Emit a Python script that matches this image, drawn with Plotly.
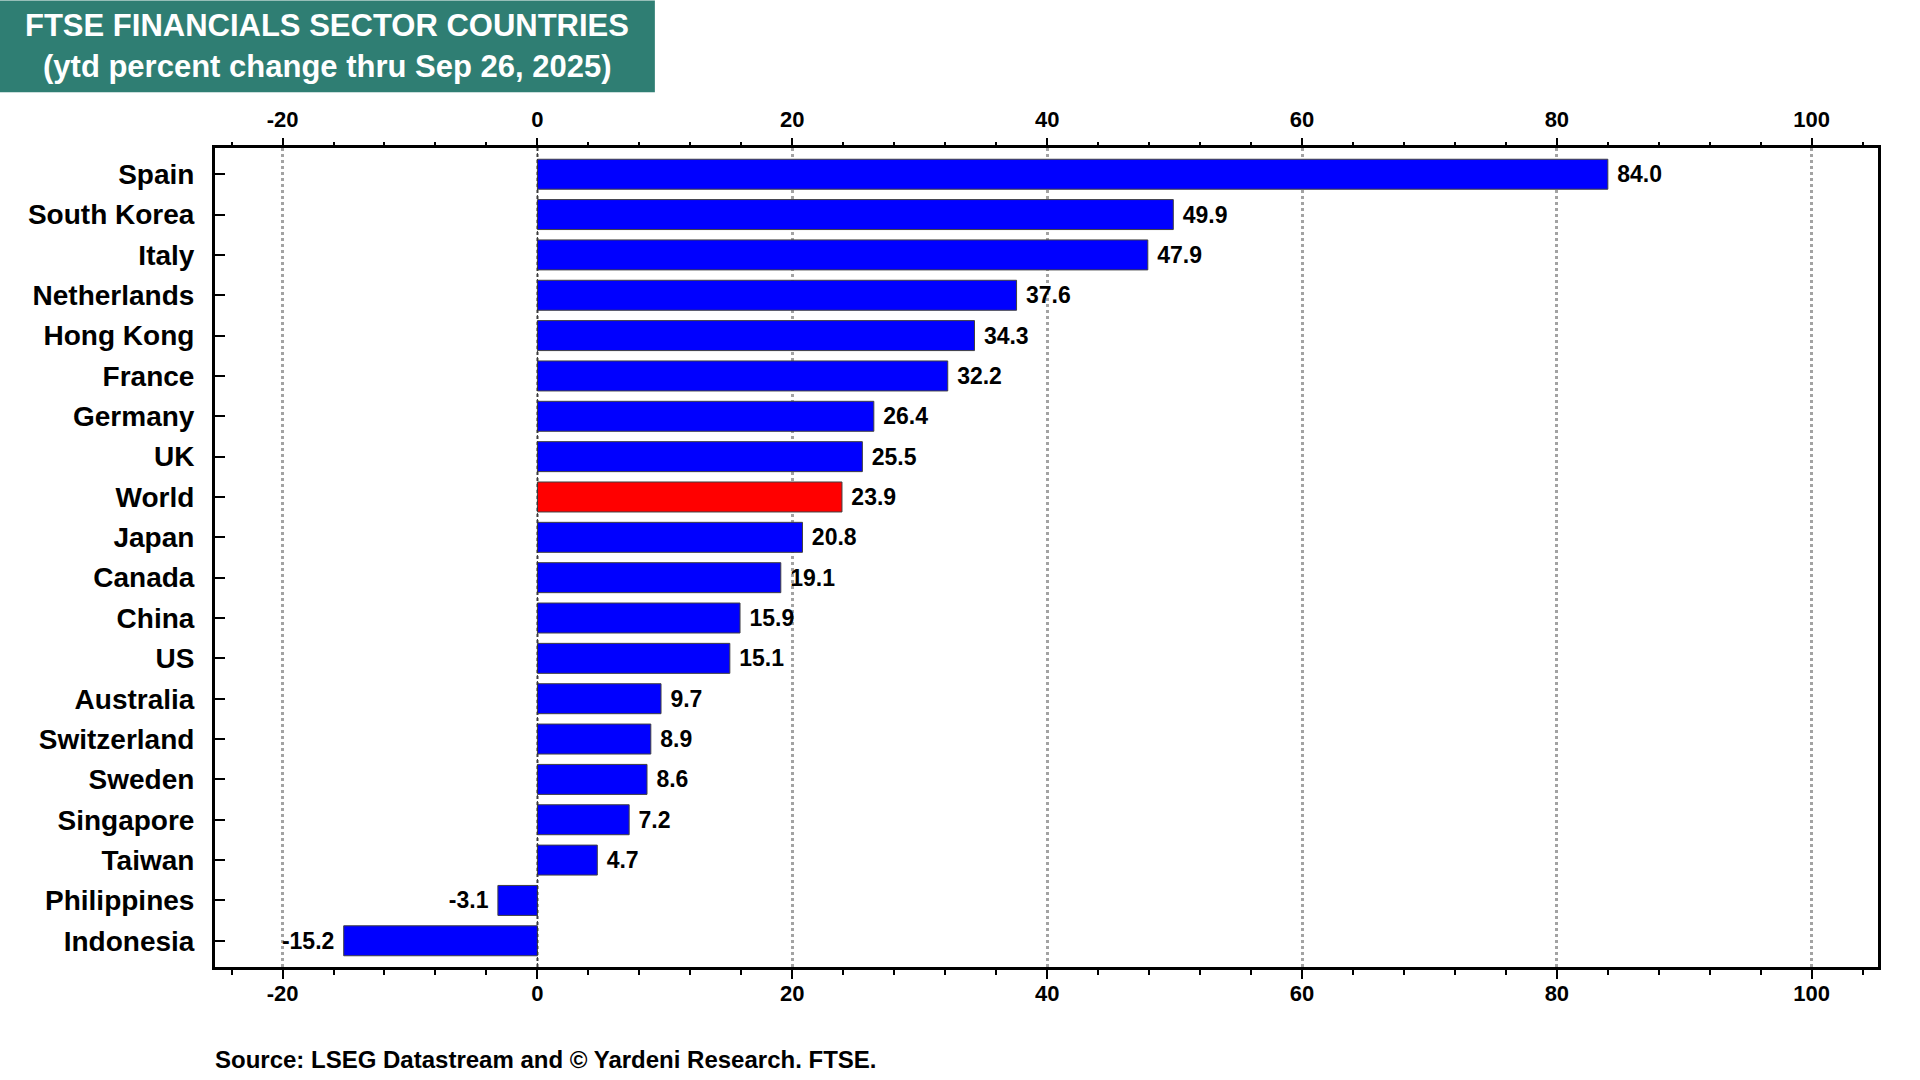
import plotly.graph_objects as go

countries = ["Spain", "South Korea", "Italy", "Netherlands", "Hong Kong", "France",
             "Germany", "UK", "World", "Japan", "Canada", "China", "US", "Australia",
             "Switzerland", "Sweden", "Singapore", "Taiwan", "Philippines", "Indonesia"]
values = [84.0, 49.9, 47.9, 37.6, 34.3, 32.2, 26.4, 25.5, 23.9, 20.8, 19.1, 15.9,
          15.1, 9.7, 8.9, 8.6, 7.2, 4.7, -3.1, -15.2]
highlight = "World"

tick_values = [-20, 0, 20, 40, 60, 80, 100]
tick_labels = ["-20", "0", "20", "40", "60", "80", "100"]

title_line1 = "FTSE FINANCIALS SECTOR COUNTRIES"
title_line2 = "(ytd percent change thru Sep 26, 2025)"
source_text = "Source: LSEG Datastream and © Yardeni Research. FTSE."

FONT = "Liberation Sans, Arial, sans-serif"
NBSP = "\u00a0"

colors = ["#FF0000" if c == highlight else "#0000FF" for c in countries]
labels = [(NBSP + f"{v:.1f}") if v >= 0 else (f"{v:.1f}" + NBSP) for v in values]

fig = go.Figure()
fig.add_trace(go.Bar(
    x=values, y=countries, orientation="h",
    marker=dict(color=colors, line=dict(color="#404040", width=1)),
    text=labels, texttemplate="%{text}", textposition="outside",
    textfont=dict(family=FONT, size=23, color="black", weight="bold"),
    constraintext="none", cliponaxis=False, hoverinfo="x+y", showlegend=False,
))
# invisible helper trace so the top axis renders
fig.add_trace(go.Scatter(x=values, y=countries, mode="none", xaxis="x2",
                         showlegend=False, hoverinfo="skip"))

axis_common = dict(
    range=[-25.3, 105.2], tickmode="array", tickvals=tick_values, ticktext=tick_labels,
    ticks="outside", ticklen=9, tickwidth=2, tickcolor="black",
    tickfont=dict(family=FONT, size=22, color="black", weight="bold"),
    minor=dict(dtick=4, tick0=0, ticks="outside", ticklen=5, tickwidth=1.5,
               tickcolor="black", showgrid=False),
    zeroline=False,
)

fig.update_layout(
    width=1920, height=1080,
    margin=dict(l=215, r=42, t=148, b=113),
    paper_bgcolor="white", plot_bgcolor="white",
    bargap=0.257,
    font=dict(family=FONT, color="black"),
    xaxis=dict(**axis_common, showgrid=True, gridcolor="#A3A3A3", griddash="dot",
               gridwidth=2.5, showline=True, linewidth=3, linecolor="black",
               mirror=True, side="bottom", ticklabelstandoff=-4),
    xaxis2=dict(**axis_common, overlaying="x", side="top", matches="x",
                showgrid=False, showline=False, anchor="y", ticklabelstandoff=2),
    yaxis=dict(categoryorder="array", categoryarray=countries,
               range=[19.65, -0.65], ticks="inside", ticklen=10, tickwidth=1.5,
               tickcolor="black", showline=True, linewidth=3, linecolor="black",
               mirror=True, showgrid=False, zeroline=False, ticklabelstandoff=12,
               tickfont=dict(family=FONT, size=28, color="black", weight="bold")),
    shapes=[
        dict(type="line", xref="x", yref="paper", x0=0, x1=0, y0=0, y1=1,
             line=dict(color="#333333", width=1, dash="4px,2px"), layer="above"),
        dict(type="rect", xref="paper", yref="paper",
             x0=-0.1293, x1=0.2645, y0=1.068, y1=1.18,
             fillcolor="#2F7E73", line=dict(width=0), layer="above"),
    ],
    annotations=[
        dict(text=title_line1, xref="paper", yref="paper", x=0.0676, y=1.1495,
             xanchor="center", yanchor="middle", showarrow=False,
             font=dict(family=FONT, size=31, color="white", weight="bold")),
        dict(text=title_line2, xref="paper", yref="paper", x=0.0676, y=1.0995,
             xanchor="center", yanchor="middle", showarrow=False,
             font=dict(family=FONT, size=31, color="white", weight="bold")),
        dict(text=source_text, xref="paper", yref="paper", x=-0.001, y=-0.1134,
             xanchor="left", yanchor="middle", showarrow=False,
             font=dict(family=FONT, size=24, color="black", weight="bold")),
    ],
)

fig.write_html("out.html", config={"displayModeBar": False},
               post_script="document.body.style.margin='0';document.body.style.padding='0';")
